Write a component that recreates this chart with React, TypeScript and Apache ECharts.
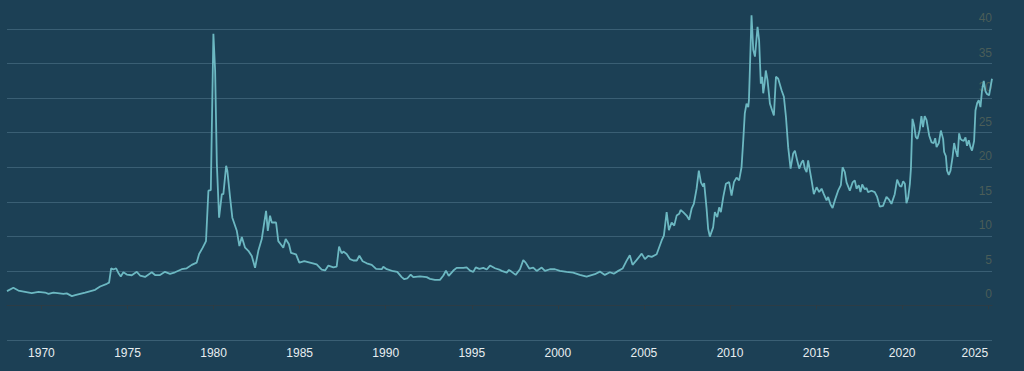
import React, { useEffect, useRef } from "react";
import * as echarts from "echarts";

// Silver price (USD / oz), decimal year
const years: number[] = [
  1968.0, 1968.37, 1968.66, 1969.44, 1969.83, 1970.21, 1970.41, 1970.7, 1971.28, 1971.47, 1971.77, 1971.96,
  1972.54, 1973.12, 1973.41, 1973.8, 1973.93, 1974.05, 1974.18, 1974.34, 1974.47, 1974.61, 1974.76, 1974.96,
  1975.25, 1975.54, 1975.73, 1976.02, 1976.41, 1976.6, 1976.89, 1977.18, 1977.47, 1977.76, 1978.15, 1978.44,
  1978.73, 1979.02, 1979.16, 1979.37, 1979.56, 1979.7, 1979.84, 1979.99, 1980.09, 1980.19, 1980.32, 1980.48,
  1980.57, 1980.73, 1980.8, 1980.96, 1981.09, 1981.35, 1981.5, 1981.64, 1981.83, 1982.02, 1982.22, 1982.41,
  1982.6, 1982.8, 1982.93, 1983.05, 1983.15, 1983.28, 1983.38, 1983.63, 1983.76, 1983.9, 1984.05, 1984.19,
  1984.38, 1984.5, 1984.79, 1984.98, 1985.27, 1985.6, 1985.99, 1986.28, 1986.48, 1986.67, 1986.96, 1987.15,
  1987.29, 1987.44, 1987.54, 1987.73, 1987.93, 1988.12, 1988.32, 1988.47, 1988.66, 1988.9, 1989.19, 1989.44,
  1989.77, 1989.86, 1990.06, 1990.44, 1990.67, 1990.93, 1991.08, 1991.25, 1991.45, 1991.6, 1991.99, 1992.38,
  1992.57, 1992.86, 1993.15, 1993.35, 1993.5, 1993.66, 1993.93, 1994.12, 1994.51, 1994.7, 1994.9, 1995.09,
  1995.23, 1995.44, 1995.67, 1995.87, 1996.06, 1996.35, 1996.64, 1996.74, 1997.03, 1997.16, 1997.32, 1997.55,
  1997.8, 1997.99, 1998.13, 1998.34, 1998.57, 1998.77, 1999.06, 1999.25, 1999.54, 1999.83, 2000.12, 2000.51,
  2000.89, 2001.28, 2001.67, 2001.86, 2002.15, 2002.44, 2002.73, 2003.02, 2003.25, 2003.51, 2003.76, 2003.99,
  2004.18, 2004.34, 2004.57, 2004.87, 2005.06, 2005.25, 2005.45, 2005.74, 2006.03, 2006.16, 2006.32, 2006.45,
  2006.61, 2006.76, 2006.9, 2007.05, 2007.13, 2007.28, 2007.48, 2007.63, 2007.77, 2007.9, 2008.06, 2008.19,
  2008.31, 2008.44, 2008.5, 2008.64, 2008.73, 2008.83, 2009.02, 2009.12, 2009.26, 2009.37, 2009.47, 2009.61,
  2009.76, 2009.95, 2010.09, 2010.23, 2010.38, 2010.53, 2010.67, 2010.77, 2010.86, 2010.96, 2011.06, 2011.1,
  2011.16, 2011.25, 2011.35, 2011.45, 2011.6, 2011.69, 2011.79, 2011.87, 2011.93, 2012.01, 2012.08, 2012.18,
  2012.32, 2012.45, 2012.55, 2012.67, 2012.8, 2013.0, 2013.13, 2013.25, 2013.38, 2013.52, 2013.67, 2013.77,
  2013.9, 2014.02, 2014.16, 2014.25, 2014.35, 2014.45, 2014.54, 2014.64, 2014.74, 2014.87, 2015.03, 2015.18,
  2015.32, 2015.45, 2015.61, 2015.7, 2015.84, 2015.96, 2016.09, 2016.28, 2016.44, 2016.54, 2016.67, 2016.77,
  2016.96, 2017.12, 2017.25, 2017.35, 2017.48, 2017.58, 2017.68, 2017.83, 2017.93, 2018.02, 2018.22, 2018.41,
  2018.55, 2018.7, 2018.89, 2019.09, 2019.24, 2019.38, 2019.57, 2019.71, 2019.86, 2019.96, 2020.06, 2020.16,
  2020.25, 2020.35, 2020.45, 2020.51, 2020.6, 2020.7, 2020.79, 2020.89, 2021.02, 2021.12, 2021.21, 2021.31,
  2021.42, 2021.57, 2021.71, 2021.84, 2021.92, 2022.0, 2022.13, 2022.25, 2022.38, 2022.44, 2022.54, 2022.61,
  2022.71, 2022.81, 2022.93, 2023.02, 2023.12, 2023.22, 2023.31, 2023.39, 2023.48, 2023.58, 2023.68, 2023.77,
  2023.87, 2023.97, 2024.06, 2024.18, 2024.26, 2024.36, 2024.45, 2024.55, 2024.64, 2024.74, 2024.84, 2024.93,
  2025.05, 2025.22,
];

const prices: number[] = [
  2.07, 2.55, 2.16, 1.78, 1.97, 1.87, 1.68, 1.87, 1.68, 1.75, 1.35, 1.49,
  1.87, 2.26, 2.74, 3.13, 3.3, 5.38, 5.2, 5.38, 4.7, 4.2, 4.8, 4.47,
  4.37, 4.86, 4.33, 4.13, 4.8, 4.4, 4.4, 4.86, 4.57, 4.8, 5.24, 5.38,
  5.87, 6.2, 7.45, 8.36, 9.3, 16.6, 16.7, 39.3, 34.0, 20.5, 12.7, 16.1,
  16.1, 20.2, 19.5, 15.6, 12.7, 10.8, 8.6, 9.9, 8.36, 7.9, 7.15, 5.46,
  7.9, 9.6, 11.75, 13.7, 10.8, 13.0, 12.0, 12.0, 9.3, 8.85, 8.36, 9.6,
  8.85, 7.6, 7.4, 6.2, 6.4, 6.2, 5.94, 5.2, 5.07, 5.77, 5.5, 5.6,
  8.5, 7.55, 7.8, 7.45, 6.7, 6.5, 6.5, 7.2, 6.4, 6.1, 5.87, 5.3,
  5.25, 5.6, 5.25, 4.95, 4.86, 4.1, 3.8, 3.9, 4.47, 4.1, 4.2, 4.1,
  3.85, 3.7, 3.7, 4.33, 5.05, 4.28, 5.05, 5.43, 5.43, 5.5, 5.05, 4.86,
  5.5, 5.3, 5.43, 5.2, 5.77, 5.38, 5.14, 5.0, 4.76, 5.14, 4.86, 4.42,
  5.24, 6.55, 6.2, 5.34, 5.48, 5.0, 5.48, 5.0, 5.24, 5.24, 5.0, 4.86,
  4.76, 4.42, 4.18, 4.32, 4.52, 4.9, 4.42, 4.8, 4.6, 5.0, 5.34, 6.45,
  7.27, 5.87, 6.55, 7.5, 6.7, 7.17, 7.03, 7.4, 9.4, 10.1, 13.5, 10.9,
  12.0, 11.55, 13.0, 13.25, 13.8, 13.5, 13.0, 12.4, 14.0, 14.7, 16.9, 19.5,
  17.8, 17.2, 17.7, 14.0, 11.1, 9.96, 11.3, 13.5, 12.8, 14.2, 13.5, 15.7,
  17.6, 17.85, 15.9, 17.85, 18.5, 18.1, 20.0, 23.9, 27.8, 29.2, 28.7, 29.7,
  34.5, 42.0, 37.0, 36.0, 40.3, 38.4, 32.1, 33.1, 30.7, 32.1, 34.0, 32.6,
  29.2, 28.2, 27.5, 33.1, 32.8, 31.1, 30.2, 27.3, 22.9, 19.8, 22.0, 22.4,
  21.0, 19.8, 20.7, 21.0, 19.8, 19.3, 21.0, 19.5, 18.1, 16.1, 17.1, 16.4,
  16.9, 16.1, 15.2, 15.7, 14.6, 14.1, 15.2, 16.6, 17.4, 20.0, 19.3, 17.8,
  16.6, 17.8, 18.1, 16.9, 17.4, 16.4, 17.5, 16.8, 17.0, 16.4, 16.6, 16.4,
  15.7, 14.3, 14.4, 15.7, 15.3, 14.7, 16.1, 18.2, 17.3, 17.2, 17.97, 17.6,
  14.8, 15.6, 17.6, 19.8, 27.0, 26.0, 24.4, 24.1, 25.4, 27.4, 25.8, 27.4,
  26.8, 24.6, 23.6, 23.5, 24.2, 22.9, 23.5, 25.3, 24.1, 22.2, 21.6, 19.5,
  18.9, 19.5, 21.5, 23.5, 22.4, 21.5, 24.9, 24.1, 23.9, 23.8, 24.3, 23.1,
  23.9, 22.9, 22.4, 23.8, 28.2, 29.3, 29.7, 28.7, 31.1, 32.5, 31.0, 30.6,
  30.4, 32.8,
];

const xTickYears: number[] = [1970, 1975, 1980, 1985, 1990, 1995, 2000, 2005, 2010, 2015, 2020, 2025];
const yTicks: number[] = [-5, 0, 5, 10, 15, 20, 25, 30, 35, 40];

export default function App() {
  const ref = useRef<HTMLDivElement>(null);
  useEffect(() => {
    if (!ref.current) return;
    const chart = echarts.init(ref.current, undefined, { renderer: "svg" });
    const data = years.map((y, i) => [y, prices[i]]);
    chart.setOption({
      animation: false,
      backgroundColor: "#1c4055",
      grid: { left: 7, right: 32, top: 29, bottom: 31, containLabel: false },
      xAxis: {
        type: "value",
        min: 1968,
        max: 2025.22,
        splitLine: { show: false },
        axisLine: { show: true, lineStyle: { color: "#2c3c45", width: 1 } },
        axisTick: {
          show: true,
          customValues: xTickYears,
          length: 4,
          lineStyle: { color: "#2c3c45" },
        },
        axisLabel: {
          customValues: xTickYears,
          color: "#e8eef1",
          fontSize: 12,
          fontFamily: "Liberation Sans, Arial, sans-serif",
          margin: 7,
          alignMaxLabel: "right",
          formatter: (v: number) => String(Math.round(v)),
        },
      },
      yAxis: {
        type: "value",
        position: "right",
        min: yTicks[0],
        max: yTicks[yTicks.length - 1],
        interval: 5,
        axisLine: { show: false },
        axisTick: { show: false },
        splitLine: { show: true, lineStyle: { color: "#3a5f74", width: 1 } },
        axisLabel: {
          inside: true,
          margin: 0,
          color: "#4a5d58",
          fontSize: 12,
          fontFamily: "Liberation Sans, Arial, sans-serif",
          verticalAlign: "bottom",
          padding: [0, 0, 5, 0],
          formatter: (v: number) => (v < 0 ? "" : String(v)),
        },
      },
      series: [
        {
          type: "line",
          data,
          showSymbol: false,
          clip: false,
          lineStyle: { color: "#6cb8c2", width: 1.8 },
          z: 3,
        },
      ],
    });
    return () => chart.dispose();
  }, []);
  return (
    <div
      ref={ref}
      style={{ position: "fixed", left: 0, top: 0, width: 1024, height: 371 }}
    />
  );
}
